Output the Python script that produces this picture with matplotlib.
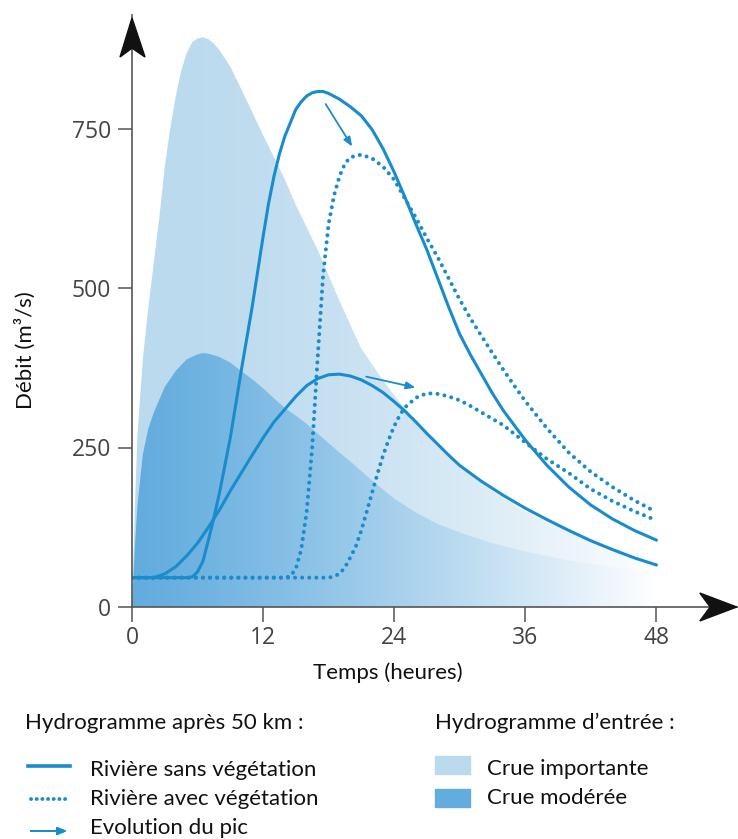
"""Hydrogrammes d'entrée et après 50 km, rivière avec / sans végétation"""

import numpy as np
import matplotlib.pyplot as plt
from matplotlib.patches import Polygon, Rectangle
from matplotlib.lines import Line2D

# --- hydrogrammes d'entrée (zones remplies) ---
t_imp_in = [0, 0.25, 0.5, 1, 1.5, 2, 2.5, 3, 3.5, 4, 4.5, 5, 5.5, 6, 6.5, 7, 7.5, 8, 9,
            10, 11, 12, 13, 14, 15, 16, 17, 18, 19, 20, 21, 22, 23, 24, 26, 28, 30,
            33, 36, 40, 44, 48]
q_imp_in = [0, 150, 270, 390, 470, 540, 610, 690, 750, 800, 840, 868, 885, 891, 893,
            890, 883, 873, 847, 812, 776, 740, 705, 670, 630, 595, 560, 520, 480, 442,
            405, 380, 355, 332, 290, 255, 222, 182, 150, 118, 93, 75]

t_mod_in = [0, 0.25, 0.5, 1, 1.5, 2, 3, 4, 5, 6, 6.5, 7, 8, 9, 10, 11, 12, 13, 14, 15,
            16, 17, 18, 19, 20, 21, 22, 23, 24, 26, 28, 30, 33, 36, 40, 44, 48]
q_mod_in = [0, 90, 160, 240, 280, 305, 345, 370, 388, 396, 398, 397, 392, 383, 370,
            357, 343, 327, 312, 300, 287, 272, 257, 242, 228, 213, 198, 184, 170, 148,
            130, 117, 100, 87, 73, 62, 54]

# --- hydrogrammes après 50 km ---
t_imp_sans = [0, 4, 5, 5.5, 6, 6.5, 7, 7.5, 8, 9, 10, 11, 12, 12.5, 13, 13.5, 14, 15,
              15.5, 16, 16.5, 17, 17.5, 18, 19, 20, 21, 22, 23, 24, 25, 26, 27, 28, 29,
              30, 31, 32, 33, 34, 35, 36, 38, 40, 42, 44, 46, 48]
q_imp_sans = [46, 46, 46, 47, 55, 72, 105, 140, 178, 265, 370, 470, 580, 632, 675,
              710, 738, 780, 792, 801, 806, 808, 808, 805, 796, 784, 770, 748, 718,
              682, 642, 600, 560, 515, 470, 428, 395, 365, 335, 308, 285, 262, 222,
              188, 160, 138, 120, 105]

t_imp_avec = [0, 14, 14.5, 15, 15.5, 16, 16.5, 17, 17.5, 18, 18.5, 19, 19.5, 20, 21,
              22, 23, 24, 25, 26, 27, 28, 29, 30, 31, 32, 33, 34, 35, 36, 38, 40, 42,
              44, 46, 48]
q_imp_avec = [46, 46, 48, 60, 90, 150, 250, 390, 520, 600, 645, 675, 695, 705, 709,
              703, 690, 670, 640, 610, 578, 548, 515, 482, 452, 425, 398, 372, 347,
              323, 280, 242, 212, 188, 167, 149]

t_mod_sans = [0, 2, 3, 4, 5, 6, 7, 8, 9, 10, 11, 12, 13, 14, 15, 16, 17, 18, 19, 20,
              21, 22, 23, 24, 25, 26, 27, 28, 29, 30, 32, 34, 36, 38, 40, 42, 44, 46, 48]
q_mod_sans = [46, 46, 52, 63, 80, 100, 125, 152, 182, 210, 238, 265, 290, 310, 330,
              347, 358, 364, 365, 362, 356, 347, 336, 322, 307, 290, 272, 255, 238,
              222, 197, 175, 155, 137, 120, 104, 90, 77, 66]

t_mod_avec = [0, 18, 18.5, 19, 19.5, 20, 20.5, 21, 21.5, 22, 22.5, 23, 23.5, 24, 24.5,
              25, 26, 27, 28, 29, 30, 31, 32, 33, 34, 36, 38, 40, 42, 44, 46, 48]
q_mod_avec = [46, 46, 48, 52, 62, 78, 95, 120, 150, 180, 210, 238, 262, 283, 300, 313,
              328, 335, 334, 330, 324, 315, 305, 295, 285, 258, 232, 210, 185, 166,
              150, 136]

x_ticks = [0, 12, 24, 36, 48]
y_ticks = [0, 250, 500, 750]

blue = "#1a8ccc"
col_imp = np.array([187, 218, 238]) / 255
col_mod = np.array([98, 172, 222]) / 255
axis_col = "#555555"
txt_col = "#111111"

fig = plt.figure(figsize=(7.38, 8.39), dpi=100)
ax = fig.add_axes([132 / 738, 1 - 607 / 839, 606 / 738, 592 / 839])


def gradient_fill(t, q, color, power, z):
    poly = ax.fill_between(t, q, 0, facecolor="none", edgecolor="none")
    xs = np.linspace(0, 48, 400)
    f = (xs / 48) ** power
    rgb = color[None, :] * (1 - f[:, None]) + f[:, None]
    img = np.concatenate([rgb, np.ones((len(xs), 1))], axis=1)[None, :, :]
    im = ax.imshow(img, extent=[0, 48, 0, max(q)], aspect="auto",
                   interpolation="bilinear", zorder=z, origin="lower")
    im.set_clip_path(poly.get_paths()[0], transform=ax.transData)


gradient_fill(t_imp_in, q_imp_in, col_imp, 1.8, 1)
gradient_fill(t_mod_in, q_mod_in, col_mod, 1.2, 1.1)
ax.set_xlim(0, 606 / 10.92)
ax.set_ylim(0, 592 / 0.638)

dots = (0, (0.01, 1.75))
ax.plot(t_imp_sans, q_imp_sans, color=blue, lw=2.2, zorder=3)
ax.plot(t_mod_sans, q_mod_sans, color=blue, lw=2.2, zorder=3)
ax.plot(t_imp_avec, q_imp_avec, color=blue, lw=2.9, ls=dots,
        dash_capstyle="round", zorder=3)
ax.plot(t_mod_avec, q_mod_avec, color=blue, lw=2.9, ls=dots,
        dash_capstyle="round", zorder=3)


# fleches "evolution du pic" (du pic sans vegetation vers le pic avec)
def peak(t, q):
    i = int(np.argmax(q))
    return t[i], q[i]


arrow_kw = dict(arrowstyle="-|>,head_length=0.55,head_width=0.22", color=blue, lw=1.3)
p1, p2 = peak(t_imp_sans, q_imp_sans), peak(t_imp_avec, q_imp_avec)
ax.annotate("", xy=(p2[0] - 0.7, p2[1] + 9), xytext=(p1[0] + 0.6, p1[1] - 16),
            arrowprops=arrow_kw, zorder=4)
p1, p2 = peak(t_mod_sans, q_mod_sans), peak(t_mod_avec, q_mod_avec)
ax.annotate("", xy=(p2[0] - 0.8, p2[1] + 8), xytext=(p1[0] + 2.2, p1[1] - 3),
            arrowprops=arrow_kw, zorder=4)

# axes avec fleches
for s in ["top", "right"]:
    ax.spines[s].set_visible(False)
for s in ["left", "bottom"]:
    ax.spines[s].set_color(axis_col)
    ax.spines[s].set_linewidth(1.2)
    ax.spines[s].set_zorder(5)

up = Polygon([[0, 0.995], [-0.0198, 0.929], [0, 0.944], [0.0215, 0.929]],
             closed=True, transform=ax.transAxes, color="#111111", clip_on=False, zorder=6)
right = Polygon([[0.998, 0], [0.937, 0.0236], [0.954, 0], [0.937, -0.0236]],
                closed=True, transform=ax.transAxes, color="#111111", clip_on=False, zorder=6)
ax.add_patch(up)
ax.add_patch(right)

ax.set_xticks(x_ticks)
ax.set_yticks(y_ticks)
ax.tick_params(axis="y", length=10, width=1.1, color=axis_col, pad=5,
               labelsize=16.5, labelcolor="#444444")
ax.tick_params(axis="x", length=11, width=1.1, color=axis_col, pad=3,
               labelsize=16.5, labelcolor="#444444")
for lab in ax.get_xticklabels() + ax.get_yticklabels():
    lab.set_family("Open Sans")

fig.text(388 / 738, 1 - 673 / 839, "Temps (heures)", ha="center", va="center",
         fontsize=16, family="Lato", color=txt_col)
fig.text(25 / 738, 1 - 350 / 839, "Débit (m³/s)", ha="center", va="center",
         rotation=90, fontsize=16, family="Lato", color=txt_col)

# legende
leg_fs = 16
fig.text(25 / 738, 1 - 723 / 839, "Hydrogramme après 50 km :", ha="left", va="center",
         fontsize=leg_fs, family="Lato", color=txt_col)
fig.text(435 / 738, 1 - 723 / 839, "Hydrogramme d’entrée :", ha="left", va="center",
         fontsize=leg_fs, family="Lato", color=txt_col)

fig.add_artist(Line2D([28 / 738, 70 / 738], [1 - 766 / 839] * 2, color=blue, lw=2.6))
fig.add_artist(Line2D([31 / 738, 70 / 738], [1 - 799 / 839] * 2, color=blue, lw=2.8,
                      ls=(0, (0.01, 1.45)), dash_capstyle="round"))
fig.add_artist(plt.annotate("", xy=(70 / 738, 1 - 831 / 839), xytext=(28 / 738, 1 - 831 / 839),
                            xycoords="figure fraction", textcoords="figure fraction",
                            arrowprops=dict(arrowstyle="-|>,head_length=0.55,head_width=0.22",
                                            color=blue, lw=1.4)))
for y, s in [(770, "Rivière sans végétation"), (799, "Rivière avec végétation"),
             (828, "Evolution du pic")]:
    fig.text(90 / 738, 1 - y / 839, s, ha="left", va="center", fontsize=leg_fs,
             family="Lato", color=txt_col)

fig.add_artist(Rectangle((435 / 738, 1 - 774 / 839), 35 / 738, 18 / 839,
                         transform=fig.transFigure, color=col_imp))
fig.add_artist(Rectangle((435 / 738, 1 - 807 / 839), 35 / 738, 18 / 839,
                         transform=fig.transFigure, color=col_mod))
fig.text(487 / 738, 1 - 769 / 839, "Crue importante", ha="left", va="center",
         fontsize=leg_fs, family="Lato", color=txt_col)
fig.text(487 / 738, 1 - 798 / 839, "Crue modérée", ha="left", va="center",
         fontsize=leg_fs, family="Lato", color=txt_col)

fig.savefig("out.png", dpi=100)
plt.close(fig)
